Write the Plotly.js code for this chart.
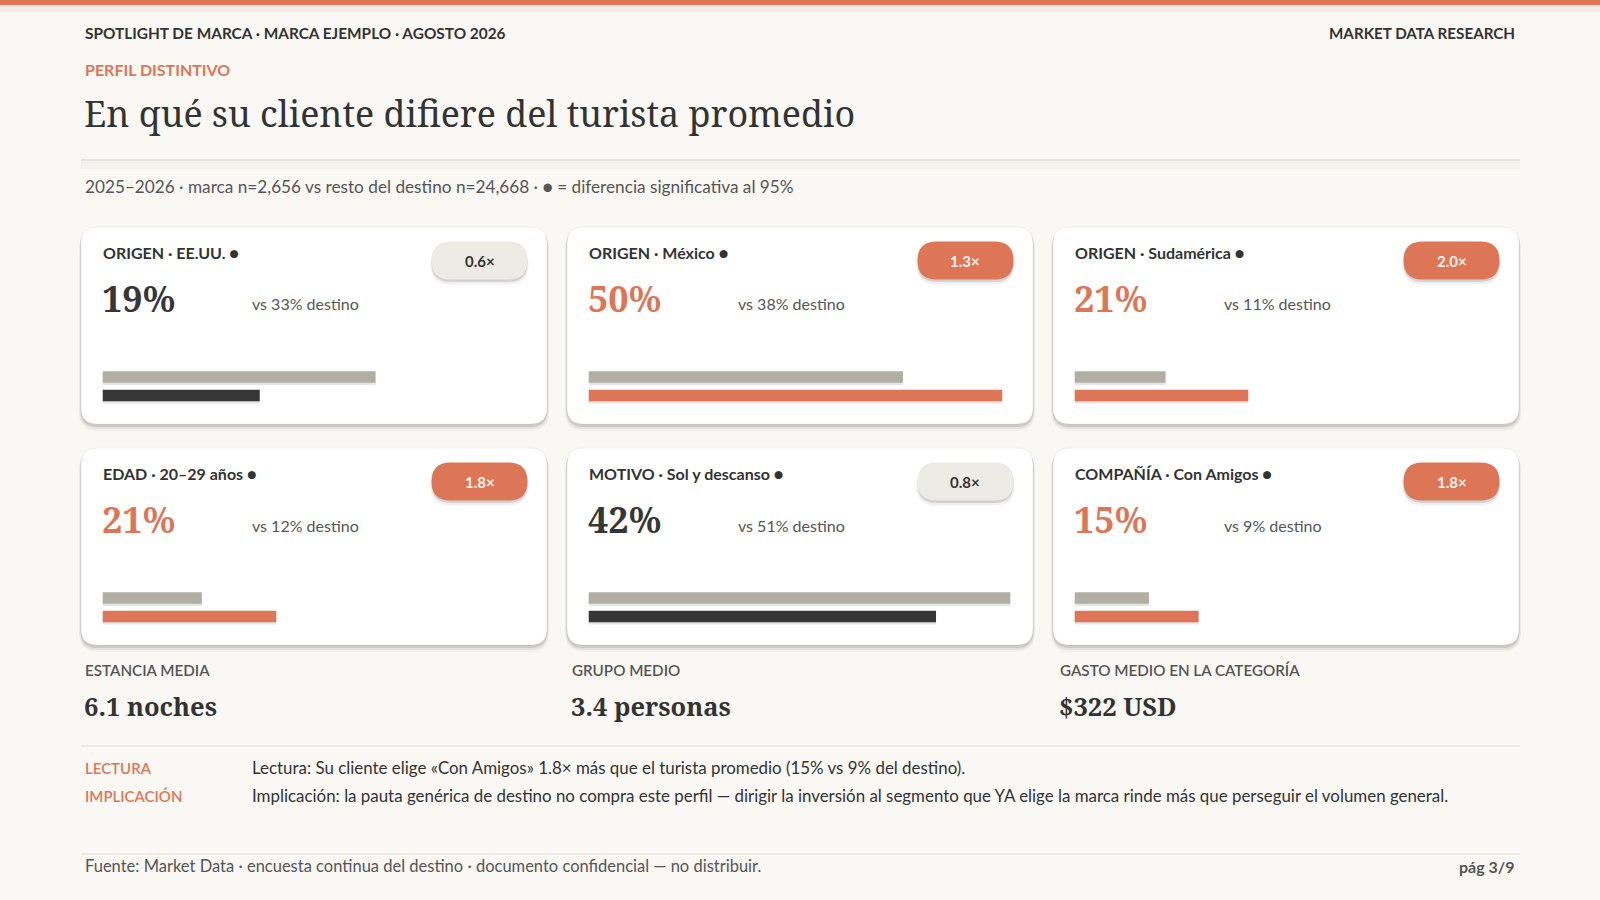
<!DOCTYPE html>
<html>
<head>
<meta charset="utf-8">
<script src="https://cdn.plot.ly/plotly-3.0.1.min.js"></script>
<style>
  html, body { margin: 0; padding: 0; background: #f9f8f5; }
  #chart { width: 1600px; height: 900px; }
</style>
</head>
<body>
<div id="chart"></div>
<script>
// ---- data ----
var dimensions = ['ORIGEN', 'ORIGEN', 'ORIGEN', 'EDAD', 'MOTIVO', 'COMPAÑÍA'];
var segments = ['EE.UU.', 'México', 'Sudamérica', '20–29 años', 'Sol y descanso', 'Con Amigos'];
var marcaPct = [19, 50, 21, 21, 42, 15];
var destinoPct = [33, 38, 11, 12, 51, 9];
var indexValues = [0.6, 1.3, 2.0, 1.8, 0.8, 1.8];
var significant = [true, true, true, true, true, true];
var barCategories = ['destino', 'marca'];

var statLabels = ['ESTANCIA MEDIA', 'GRUPO MEDIO', 'GASTO MEDIO EN LA CATEGORÍA'];
var statValues = ['6.1 noches', '3.4 personas', '$322 USD'];

var noteLabels = ['LECTURA', 'IMPLICACIÓN'];
var noteTexts = [
  'Lectura: Su cliente elige «Con Amigos» 1.8× más que el turista promedio (15% vs 9% del destino).',
  'Implicación: la pauta genérica de destino no compra este perfil — dirigir la inversión al segmento que YA elige la marca rinde más que perseguir el volumen general.'
];

// ---- look ----
var W = 1600, H = 900;
var ORANGE = '#dd7657';
var DARK = '#363636';
var GREY_BAR = '#b0aea5';
var TEXT = '#333333';
var MUTED = '#555555';
var SANS = 'Lato, "Open Sans", sans-serif';
var SERIF = '"Noto Serif", "DejaVu Serif", serif';

function px(x) { return x / W; }
function py(y) { return 1 - y / H; }

// rounded rectangle path in page pixels -> paper coords
function rr(x0, y0, x1, y1, r) {
  function p(x, y) { return px(x) + ',' + py(y); }
  return 'M' + p(x0 + r, y0) + ' L' + p(x1 - r, y0) + ' Q' + p(x1, y0) + ' ' + p(x1, y0 + r) +
    ' L' + p(x1, y1 - r) + ' Q' + p(x1, y1) + ' ' + p(x1 - r, y1) +
    ' L' + p(x0 + r, y1) + ' Q' + p(x0, y1) + ' ' + p(x0, y1 - r) +
    ' L' + p(x0, y0 + r) + ' Q' + p(x0, y0) + ' ' + p(x0 + r, y0) + ' Z';
}

var shapes = [];
var annotations = [];

function addText(x, y, text, size, color, opts) {
  opts = opts || {};
  annotations.push({
    xref: 'paper', yref: 'paper', x: px(x), y: py(y),
    xanchor: opts.anchor || 'left', yanchor: 'middle',
    text: text, showarrow: false,
    font: { family: opts.family || SANS, size: size, color: color, weight: opts.weight || 400 }
  });
}

function addBox(x0, y0, x1, y1, r, fill, line) {
  shapes.push({ type: 'path', xref: 'paper', yref: 'paper', layer: 'below',
    path: rr(x0, y0, x1, y1, r), fillcolor: fill,
    line: line ? { color: line, width: 1 } : { width: 0 } });
}

// top band
shapes.push({ type: 'rect', xref: 'paper', yref: 'paper', layer: 'below',
  x0: 0, x1: 1, y0: py(12), y1: py(4), fillcolor: 'rgba(0,0,0,0.04)', line: { width: 0 } });
shapes.push({ type: 'rect', xref: 'paper', yref: 'paper', layer: 'below',
  x0: 0, x1: 1, y0: py(7), y1: py(4), fillcolor: 'rgba(0,0,0,0.06)', line: { width: 0 } });
shapes.push({ type: 'rect', xref: 'paper', yref: 'paper', layer: 'below',
  x0: 0, x1: 1, y0: py(5), y1: 1, fillcolor: ORANGE, line: { width: 0 } });

// header
addText(83, 33, 'SPOTLIGHT DE MARCA · MARCA EJEMPLO · AGOSTO 2026', 15.4, TEXT, { weight: 700 });
addText(1517, 33, 'MARKET DATA RESEARCH', 15.2, TEXT, { weight: 700, anchor: 'right' });
addText(83, 69, 'PERFIL DISTINTIVO', 16, ORANGE, { weight: 700 });
addText(82, 113, 'En qué su cliente difiere del turista promedio', 35.8, TEXT, { family: SERIF });

// divider under title
shapes.push({ type: 'rect', xref: 'paper', yref: 'paper', layer: 'below',
  x0: px(81), x1: px(1520), y0: py(169), y1: py(160), fillcolor: 'rgba(0,0,0,0.025)', line: { width: 0 } });
shapes.push({ type: 'line', xref: 'paper', yref: 'paper', layer: 'below',
  x0: px(81), x1: px(1520), y0: py(160), y1: py(160), line: { color: '#e6e3dd', width: 2 } });

addText(83, 186, '2025–2026 · marca n=2,656 vs resto del destino n=24,668 · ● = diferencia significativa al 95%', 17.2, MUTED);

// cards
var colLeft = [81, 567, 1053];
var cardW = 466, cardH = 197;
var rowTop = [227, 448];
var maxPct = Math.max.apply(null, marcaPct.concat(destinoPct));
var barW = 0.63;

var data = [];
var layout = {
  width: W, height: H,
  margin: { l: 0, r: 0, t: 0, b: 0 },
  paper_bgcolor: '#f9f8f5',
  plot_bgcolor: 'rgba(0,0,0,0)',
  showlegend: false,
  barmode: 'overlay',
  font: { family: SANS }
};

for (var i = 0; i < segments.length; i++) {
  var cx = colLeft[i % 3];
  var cy = rowTop[Math.floor(i / 3)];
  var cx1 = cx + cardW, cy1 = cy + cardH;
  var over = indexValues[i] >= 1;
  var accent = over ? ORANGE : DARK;

  // card + shadow
  addBox(cx - 2, cy + 3, cx1 + 2, cy1 + 7, 19, 'rgba(0,0,0,0.03)');
  addBox(cx - 1.5, cy + 2, cx1 + 1.5, cy1 + 5, 18, 'rgba(0,0,0,0.05)');
  addBox(cx - 0.5, cy + 1, cx1 + 0.5, cy1 + 3, 17, 'rgba(0,0,0,0.11)');
  addBox(cx, cy, cx1, cy1, 16, '#ffffff', 'rgba(0,0,0,0.06)');

  // pill
  var pw = 96, ph = 38;
  var px1 = cx1 - 19.5, px0 = px1 - pw, pt = cy + 14.5;
  addBox(px0 - 1, pt + 3, px1 + 1, pt + ph + 5, 20, 'rgba(0,0,0,0.06)');
  addBox(px0, pt + 2, px1, pt + ph + 2.5, 19, 'rgba(0,0,0,0.12)');
  addBox(px0, pt, px1, pt + ph, 19, over ? ORANGE : '#edebe5');
  addText((px0 + px1) / 2, pt + ph / 2 + 0.5, indexValues[i].toFixed(1) + '×', 15,
    over ? '#fdf1ec' : TEXT, { weight: 700, anchor: 'center' });

  addText(cx + 19.5, cy + 26, dimensions[i] + ' · ' + segments[i] + (significant[i] ? ' ●' : ''), 16, TEXT, { weight: 700 });
  addText(cx + 19, cy + 71, marcaPct[i] + '%', 36, accent, { family: SERIF, weight: 700 });
  addText(cx + 168.5, cy + 77, 'vs ' + destinoPct[i] + '% destino', 16, MUTED);

  // bars (soft shadow trace first, then the bars)
  var n = i + 1;
  layout['xaxis' + n] = {
    domain: [px(cx + 21.5), px(cx1 - 22.5)],
    range: [0, maxPct], visible: false, fixedrange: true, anchor: 'y' + n
  };
  layout['yaxis' + n] = {
    domain: [py(cy + 177.6), py(cy + 140.9)],
    type: 'category', autorange: 'reversed', visible: false, fixedrange: true, anchor: 'x' + n
  };
  data.push({
    type: 'bar', orientation: 'h',
    x: [destinoPct[i], marcaPct[i]], y: barCategories,
    xaxis: 'x' + n, yaxis: 'y' + n,
    width: barW + 0.04, offset: -barW / 2 + 0.08,
    marker: { color: 'rgba(0,0,0,0.10)' },
    hoverinfo: 'skip'
  });
  data.push({
    type: 'bar', orientation: 'h',
    x: [destinoPct[i], marcaPct[i]], y: barCategories,
    xaxis: 'x' + n, yaxis: 'y' + n,
    width: barW, offset: -barW / 2,
    marker: { color: [GREY_BAR, accent] },
    hoverinfo: 'skip'
  });
}

// stats
var statX = [83, 570, 1058];
for (var s = 0; s < statLabels.length; s++) {
  addText(statX[s], 670, statLabels[s], 15.2, MUTED, { weight: 600 });
  addText(statX[s] - 1, 706, statValues[s], 25.5, TEXT, { family: SERIF, weight: 700 });
}

shapes.push({ type: 'line', xref: 'paper', yref: 'paper', layer: 'below',
  x0: px(81), x1: px(1520), y0: py(746), y1: py(746), line: { color: '#e8e4dc', width: 1.5 } });

var noteY = [768, 796];
for (var k = 0; k < noteLabels.length; k++) {
  addText(83, noteY[k], noteLabels[k], 15, ORANGE, { weight: 600 });
  addText(250, noteY[k] - 1, noteTexts[k], 16.9, TEXT);
}

// footer
shapes.push({ type: 'line', xref: 'paper', yref: 'paper', layer: 'below',
  x0: px(81), x1: px(1520), y0: py(854), y1: py(854), line: { color: '#e8e4dc', width: 1.5 } });
addText(83, 866, 'Fuente: Market Data · encuesta continua del destino · documento confidencial — no distribuir.', 16.5, MUTED);
addText(1517, 866, 'pág 3/9', 16, MUTED, { weight: 700, anchor: 'right' });

layout.shapes = shapes;
layout.annotations = annotations;

Plotly.newPlot('chart', data, layout, { displayModeBar: false, staticPlot: true });
</script>
</body>
</html>
